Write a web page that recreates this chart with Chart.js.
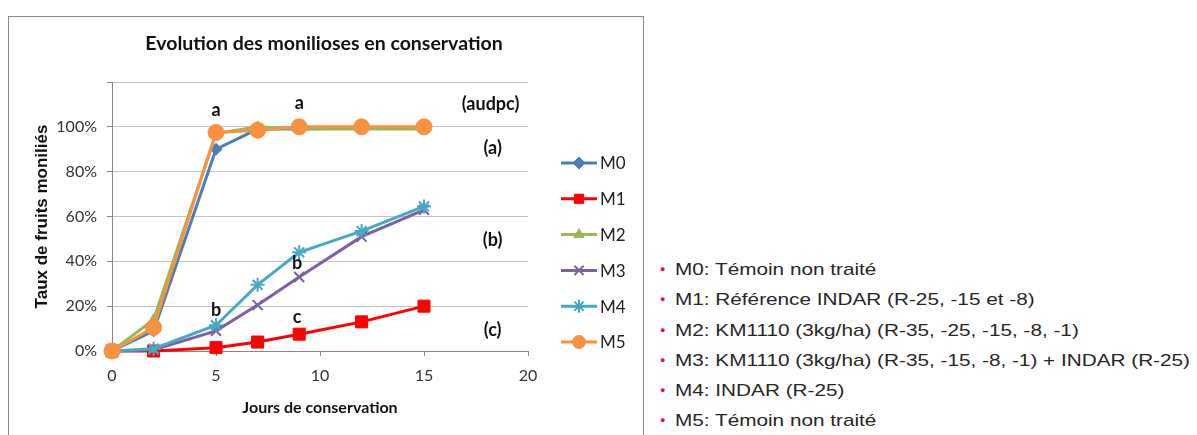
<!DOCTYPE html>
<html>
<head>
<meta charset="utf-8">
<script src="https://cdn.jsdelivr.net/npm/chart.js@4.4.1/dist/chart.umd.min.js"></script>
<style>
  body { margin: 0; background: #fff; width: 1197px; height: 435px; overflow: hidden; position: relative; }
  #box { position: absolute; left: 8px; top: 16px; width: 634px; height: 430px; border: 1px solid #888; }
  #wrap { position: absolute; left: 0; top: 0; width: 634px; height: 418px; }
  #notes { position: absolute; left: 656px; top: 255px; margin: 0; padding: 0; list-style: none;
           font-family: "Liberation Sans", Arial, sans-serif; font-size: 17px; color: #262626; }
  #notes li { position: relative; height: 30.3px; line-height: 30px; white-space: nowrap; }
  #notes li .dot { position: absolute; left: 4px; top: -1px; color: #e3132c; font-size: 9px; }
  #notes li .txt { display: inline-block; margin-left: 19px; transform: scaleX(1.22); transform-origin: left center; }
</style>
</head>
<body>
<div id="box"><div id="wrap"><canvas id="lineChart"></canvas></div></div>
<ul id="notes"></ul>
<script>
// jours de conservation
var days = [0, 2, 5, 7, 9, 12, 15];
var seriesNames = ['M0', 'M1', 'M2', 'M3', 'M4', 'M5'];
var m0 = [0, 0.09, 0.90, 0.99, 0.99, 0.995, 0.995];
var m1 = [0, 0, 0.015, 0.04, 0.075, 0.13, 0.20];
var m2 = [0, 0.14, 0.97, 1.00, 0.99, 0.99, 0.99];
var m3 = [0, 0.005, 0.09, 0.205, 0.33, 0.51, 0.63];
var m4 = [0, 0.01, 0.115, 0.295, 0.44, 0.535, 0.645];
var m5 = [0, 0.105, 0.975, 0.985, 1.00, 1.00, 1.00];
var yTicks = [0, 0.2, 0.4, 0.6, 0.8, 1.0, 1.2];
var xTicks = [0, 5, 10, 15, 20];
// lettres de significativité
var noteTexts = ['a', 'a', '(audpc)', '(a)', '(b)', '(c)', 'b', 'b', 'c'];
var noteX = [5, 9, 18.2, 18.3, 18.3, 18.3, 5, 8.9, 8.9];
var noteY = [1.075, 1.105, 1.10, 0.905, 0.495, 0.094, 0.183, 0.393, 0.152];
var legendTexts = [
    'M0: Témoin non traité',
    'M1: Référence INDAR (R-25, -15 et -8)',
    'M2: KM1110 (3kg/ha) (R-35, -25, -15, -8, -1)',
    'M3: KM1110 (3kg/ha) (R-35, -15, -8, -1) + INDAR (R-25)',
    'M4: INDAR (R-25)',
    'M5: Témoin non traité'
];
var chartTitle = 'Evolution des monilioses en conservation';

var notes = document.getElementById('notes');
legendTexts.forEach(function (t) {
    var li = document.createElement('li');
    var dot = document.createElement('span');
    dot.className = 'dot';
    dot.innerHTML = '&#9679;';
    var txt = document.createElement('span');
    txt.className = 'txt';
    txt.textContent = t;
    li.appendChild(dot);
    li.appendChild(txt);
    notes.appendChild(li);
});

var values = [m0, m1, m2, m3, m4, m5];
var colors = ['#4a7ebb', '#ff0000', '#98b954', '#7d60a0', '#46aac5', '#f69240'];
var styles = ['rectRot', 'rect', 'triangle', 'crossRot', 'star', 'circle'];
var radii = [6, 8.5, 6, 7, 7, 8];

var datasets = values.map(function (v, i) {
    return {
        label: seriesNames[i],
        data: days.map(function (d, j) { return { x: d, y: v[j] }; }),
        showLine: true,
        borderColor: colors[i],
        backgroundColor: colors[i],
        borderWidth: 3,
        pointStyle: styles[i],
        pointRadius: radii[i],
        pointBorderWidth: styles[i] === 'crossRot' || styles[i] === 'star' ? 2 : 1,
        pointBorderColor: colors[i],
        pointBackgroundColor: colors[i],
        order: 5 - i,
        clip: false
    };
});

var chartFont = 'Lato, "Open Sans", sans-serif';

var notesPlugin = {
    id: 'notesPlugin',
    afterDatasetsDraw: function (chart) {
        var ctx = chart.ctx, xs = chart.scales.x, ys = chart.scales.y;
        ctx.save();
        ctx.font = 'bold 18px ' + chartFont;
        ctx.fillStyle = '#111';
        ctx.textAlign = 'center';
        ctx.textBaseline = 'middle';
        noteTexts.forEach(function (t, i) {
            ctx.fillText(t, xs.getPixelForValue(noteX[i]), ys.getPixelForValue(noteY[i]));
        });
        // titre
        ctx.font = 'bold 19.5px ' + chartFont;
        ctx.fillText(chartTitle, 315, 27);
        ctx.restore();
    }
};

var legendPlugin = {
    id: 'sideLegend',
    afterDraw: function (chart) {
        var ctx = chart.ctx;
        ctx.save();
        chart.data.datasets.forEach(function (ds, i) {
            var y = 146 + i * 35.8;
            ctx.strokeStyle = ds.borderColor;
            ctx.lineWidth = 3;
            ctx.beginPath();
            ctx.moveTo(552, y);
            ctx.lineTo(588, y);
            ctx.stroke();
            ctx.fillStyle = ds.backgroundColor;
            ctx.lineWidth = ds.pointBorderWidth;
            Chart.helpers.drawPoint(ctx, {
                pointStyle: ds.pointStyle, radius: Math.min(ds.pointRadius, 6.5),
                rotation: 0, borderWidth: ds.pointBorderWidth
            }, 570, y);
            ctx.fillStyle = '#222';
            ctx.font = '17px ' + chartFont;
            ctx.textAlign = 'left';
            ctx.textBaseline = 'middle';
            ctx.fillText(ds.label, 591, y + 1);
        });
        ctx.restore();
    }
};

new Chart(document.getElementById('lineChart').getContext('2d'), {
    type: 'scatter',
    data: { datasets: datasets },
    options: {
        responsive: true,
        maintainAspectRatio: false,
        animation: false,
        layout: { padding: { left: 0, right: 115, top: 65, bottom: 0 } },
        plugins: {
            legend: { display: false },
            tooltip: { enabled: false },
            title: { display: false }
        },
        scales: {
            x: {
                type: 'linear',
                min: 0, max: 20,
                afterBuildTicks: function (s) { s.ticks = xTicks.map(function (v) { return { value: v }; }); },
                afterFit: function (s) { s.height = 84; },
                grid: { drawOnChartArea: false, drawTicks: true, tickLength: 5, color: '#868686' },
                border: { color: '#868686', width: 1 },
                ticks: { color: '#333', padding: 10, font: { family: chartFont, size: 16 } },
                title: {
                    display: true, text: 'Jours de conservation', color: '#111',
                    font: { family: chartFont, size: 16, weight: 'bold' },
                    padding: { top: 0, bottom: 18 }
                }
            },
            y: {
                min: 0, max: 1.2,
                afterBuildTicks: function (s) { s.ticks = yTicks.map(function (v) { return { value: v }; }); },
                afterFit: function (s) { s.width = 103; },
                grid: { color: '#c4c4c4', tickLength: 5, tickColor: '#868686' },
                border: { color: '#868686', width: 1 },
                ticks: {
                    color: '#333', padding: 10, font: { family: chartFont, size: 16 },
                    callback: function (v) { return v > 1.001 ? '' : Math.round(v * 100) + '%'; }
                },
                title: {
                    display: true, text: 'Taux de fruits moniliés', color: '#111',
                    font: { family: '"Liberation Sans", Arial, sans-serif', size: 17, weight: 'bold' },
                    padding: { top: 23, bottom: 0 }
                }
            }
        }
    },
    plugins: [notesPlugin, legendPlugin]
});
</script>
</body>
</html>
